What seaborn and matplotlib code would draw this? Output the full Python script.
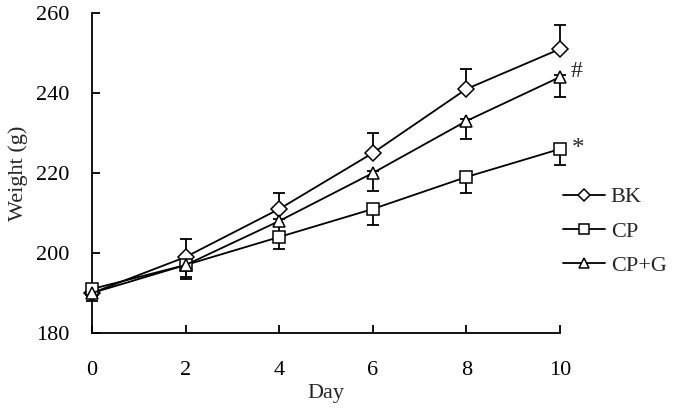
import matplotlib
matplotlib.use("Agg")
import matplotlib.pyplot as plt
import seaborn as sns
import pandas as pd
import numpy as np

days = [0, 2, 4, 6, 8, 10]
bk = [190, 199, 211, 225, 241, 251]
bk_err = [2, 4.5, 4, 5, 5, 6]
cp = [191, 197, 204, 211, 219, 226]
cp_err = [2, 3, 3, 4, 4, 4]
cpg = [190, 197, 208, 220, 233, 244]
cpg_err = [2, 3.5, 3.5, 4.5, 4.5, 5]
groups = ["BK", "CP", "CP+G"]
markers = ["D", "s", "^"]
marker_sizes = [7, 8, 8]
legend_marker_sizes = [6, 6.5, 7]

sns.set_theme(style="ticks")
plt.rcParams['font.family'] = ['Liberation Serif', 'DejaVu Serif']

df = pd.DataFrame({
    "Day": days * 3,
    "Weight": bk + cp + cpg,
    "Group": sum([[g] * len(days) for g in groups], []),
})

fig = plt.figure(figsize=(6.75, 4.15), dpi=100)
ax = fig.add_axes([0.1363, 0.1976, 0.6933, 0.771])

eb_kw = dict(fmt="none", ecolor="black", elinewidth=1.3, capsize=4.5, capthick=1.3,
             zorder=2, clip_on=False)
ax.errorbar(days, bk, yerr=[[0.4] * len(days), bk_err], **eb_kw)
ax.errorbar(days, cp, yerr=[cp_err, [0.4] * len(days)], **eb_kw)
ax.errorbar(days, cpg, yerr=[cpg_err, [0.4] * len(days)], **eb_kw)

sns.lineplot(data=df, x="Day", y="Weight", hue="Group", style="Group",
             markers=dict(zip(groups, markers)), dashes=False,
             palette=["black"] * 3, ax=ax, linewidth=1.3,
             markerfacecolor="white", markeredgecolor="black",
             markeredgewidth=1.1, markersize=8, zorder=3, clip_on=False)
for line, ms in zip(ax.get_lines()[-3:], marker_sizes):
    line.set_markersize(ms)

ax.set_xlim(0, 10)
ax.set_ylim(180, 260)
ax.set_xticks(days)
ax.set_yticks([180, 200, 220, 240, 260])
ax.tick_params(direction="in", length=6, width=1.3, labelsize=16, colors="black")
ax.tick_params(axis="x", pad=20)
ax.tick_params(axis="y", pad=16)
ax.spines["top"].set_visible(False)
ax.spines["right"].set_visible(False)
for s in ["left", "bottom"]:
    ax.spines[s].set_linewidth(1.3)
    ax.spines[s].set_color("black")
ax.set_xlabel("Day", fontsize=16, labelpad=3)
ax.set_ylabel("Weight (g)", fontsize=16, labelpad=6)

ax.text(10.36, 245.5, "#", fontsize=17, ha="center", va="center", clip_on=False)
ax.text(10.38, 226.0, "*", fontsize=18, ha="center", va="center", clip_on=False)

ax.get_legend().remove()
handles = [plt.Line2D([], [], color="black", lw=1.3, marker=m, markersize=ms,
                      markerfacecolor="white", markeredgecolor="black", markeredgewidth=1.1)
           for m, ms in zip(markers, legend_marker_sizes)]
fig.legend(handles, groups, loc="upper left", bbox_to_anchor=(0.834, 0.55),
           frameon=False, fontsize=16, handlelength=1.9, handletextpad=0.25,
           labelspacing=0.62, borderaxespad=0, borderpad=0)

fig.savefig("out.png", dpi=100)
